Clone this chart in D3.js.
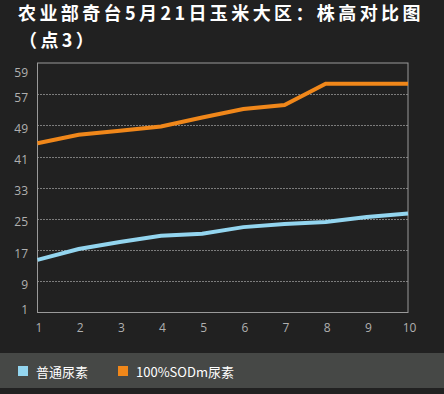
<!DOCTYPE html>
<html>
<head>
<meta charset="utf-8">
<script src="https://cdn.jsdelivr.net/npm/d3@7"></script>
<style>
  html, body { margin: 0; padding: 0; background: #212121; }
  svg { display: block; }
</style>
</head>
<body>
<div id="chart"></div>
<script>
// chart data
var titleLines = ["农业部奇台5月21日玉米大区：株高对比图", "（点3）"];
var days = [1, 2, 3, 4, 5, 6, 7, 8, 9, 10];
var seriesNames = ["普通尿素", "100%SODm尿素"];
var normalUrea = [14.5, 17.3, 19.1, 20.7, 21.2, 22.9, 23.7, 24.2, 25.5, 26.4];
var sodmUrea = [44.4, 46.6, 47.6, 48.7, 51.0, 53.2, 54.2, 59.7, 59.7, 59.7];
var yTicks = [1, 9, 17, 25, 33, 41, 49, 57];
var yTopLabel = "59";
var yDomain = [1, 65];

var width = 444, height = 394;
var margin = {top: 63, right: 36, bottom: 81.5, left: 37.5};
var colors = ["#93d5ef", "#f0871a"];

var svg = d3.select("#chart").append("svg")
	.attr("width", width)
	.attr("height", height);

svg.append("rect")
	.attr("width", width)
	.attr("height", height)
	.attr("fill", "#212121");

// title
var title = svg.append("text")
	.attr("fill", "#ffffff")
	.attr("font-family", "'Noto Sans CJK SC', sans-serif")
	.attr("font-weight", "bold")
	.attr("font-size", 18)
	.attr("letter-spacing", 3.4);
title.selectAll("tspan")
	.data(titleLines)
	.enter()
	.append("tspan")
	.attr("x", function(d, i) { return i == 0 ? 18 : 19; })
	.attr("y", function(d, i) { return 20 + i * 26.5; })
	.text(function(d) { return d; });

var x = d3.scalePoint()
	.domain(days)
	.range([margin.left, width - margin.right]);

var y = d3.scaleLinear()
	.domain(yDomain)
	.range([height - margin.bottom, margin.top]);

// dotted grid lines
svg.append("g")
	.selectAll("line")
	.data(yTicks.slice(1))
	.enter()
	.append("line")
	.attr("x1", margin.left)
	.attr("x2", width - margin.right)
	.attr("y1", function(d) { return Math.round(y(d)) + 0.5; })
	.attr("y2", function(d) { return Math.round(y(d)) + 0.5; })
	.attr("stroke", "#d8d8d8")
	.attr("stroke-width", 1)
	.attr("stroke-dasharray", "1,2");

// frame
svg.append("rect")
	.attr("x", margin.left)
	.attr("y", margin.top)
	.attr("width", width - margin.left - margin.right)
	.attr("height", height - margin.top - margin.bottom)
	.attr("fill", "none")
	.attr("stroke", "#9a9a9a")
	.attr("stroke-width", 1);

// y labels (kept inside the frame like the original)
var plotTop = y(yDomain[1]), plotBottom = y(yDomain[0]);
var yLabels = yTicks.map(function(d) { return {text: String(d), pos: y(d)}; });
yLabels.push({text: yTopLabel, pos: plotTop});
svg.append("g")
	.selectAll("text")
	.data(yLabels)
	.enter()
	.append("text")
	.attr("x", 28)
	.attr("y", function(d) { return Math.max(plotTop + 9, Math.min(d.pos + 3, plotBottom - 3)); })
	.attr("text-anchor", "end")
	.attr("dominant-baseline", "central")
	.attr("fill", "#b0b0b0")
	.attr("font-family", "'Open Sans', sans-serif")
	.attr("font-size", 12)
	.text(function(d) { return d.text; });

// x labels
svg.append("g")
	.selectAll("text")
	.data(days)
	.enter()
	.append("text")
	.attr("x", function(d) { return x(d) + 1.5; })
	.attr("y", 327)
	.attr("text-anchor", "middle")
	.attr("dominant-baseline", "central")
	.attr("fill", "#b0b0b0")
	.attr("font-family", "'Open Sans', sans-serif")
	.attr("font-size", 12)
	.text(function(d) { return d; });

// lines
var line = d3.line()
	.x(function(d, i) { return x(days[i]); })
	.y(function(d) { return y(d); });

svg.append("g")
	.selectAll("path")
	.data([normalUrea, sodmUrea])
	.enter()
	.append("path")
	.attr("d", line)
	.attr("fill", "none")
	.attr("stroke", function(d, i) { return colors[i]; })
	.attr("stroke-width", 4);

// legend band
svg.append("rect")
	.attr("x", 0)
	.attr("y", 353)
	.attr("width", width)
	.attr("height", 35)
	.attr("fill", "#464846");

var legendX = [18, 118];
var legend = svg.append("g")
	.selectAll("g")
	.data(seriesNames)
	.enter()
	.append("g")
	.attr("transform", function(d, i) { return "translate(" + legendX[i] + ",366)"; });

legend.append("rect")
	.attr("width", 10)
	.attr("height", 10)
	.attr("fill", function(d, i) { return colors[i]; });

legend.append("text")
	.attr("x", 18)
	.attr("y", 5)
	.attr("dominant-baseline", "central")
	.attr("fill", "#ffffff")
	.attr("font-family", "'Noto Sans CJK SC', sans-serif")
	.attr("font-size", 13)
	.text(function(d) { return d; });
</script>
</body>
</html>
